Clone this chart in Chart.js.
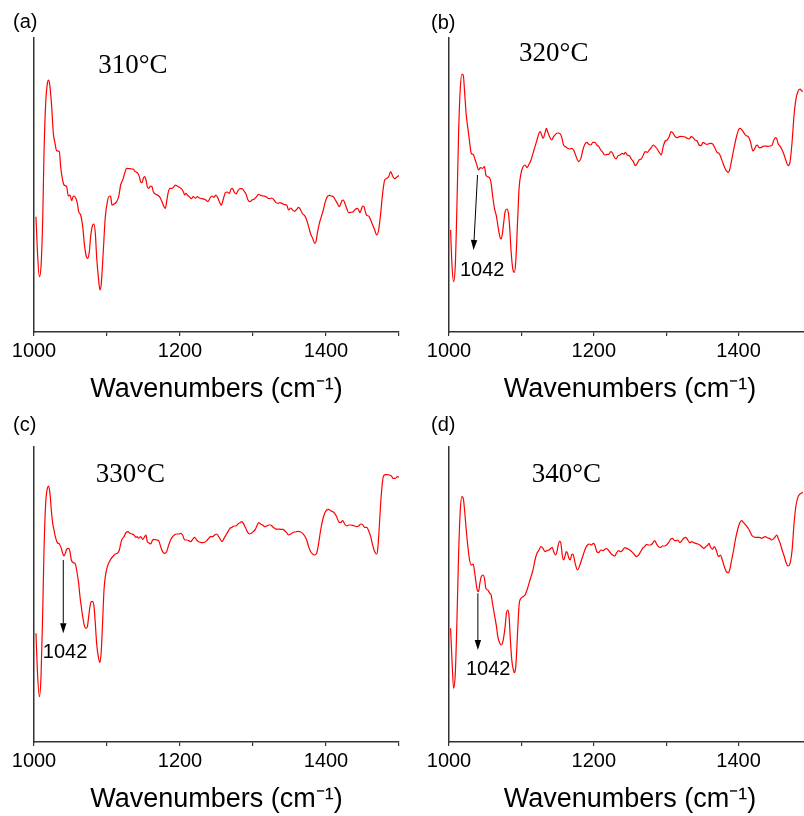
<!DOCTYPE html>
<html>
<head>
<meta charset="utf-8">
<script src="https://cdn.jsdelivr.net/npm/chart.js@4.4.0/dist/chart.umd.min.js"></script>
<style>
  html, body { margin: 0; padding: 0; background: #fff; overflow: hidden; width: 804px; height: 816px; }
  canvas { position: absolute; }
</style>
</head>
<body>
<canvas id="p310" width="402" height="408" style="left:0;top:0"></canvas>
<canvas id="p320" width="412" height="408" style="left:402px;top:0"></canvas>
<canvas id="p330" width="402" height="408" style="left:0;top:410px"></canvas>
<canvas id="p340" width="412" height="408" style="left:402px;top:410px"></canvas>
<script>
// FTIR spectra, 1000-1500 cm-1, arbitrary intensity units
const wave310 = [1002.7,1004.6,1007.3,1009.6,1011.9,1013.7,1016.0,1018.3,1020.1,1021.9,1024.2,1026.5,1028.8,1031.0,1034.7,1036.5,1038.4,1041.1,1044.7,1047.0,1049.3,1051.6,1053.9,1056.6,1059.4,1061.2,1063.9,1066.7,1068.9,1071.2,1073.5,1075.8,1077.6,1080.4,1082.2,1084.0,1085.8,1088.1,1090.4,1092.2,1095.0,1097.7,1100.5,1103.2,1105.0,1106.8,1109.6,1113.2,1116.0,1118.7,1121.5,1124.2,1126.9,1131.5,1136.1,1138.8,1141.5,1144.3,1146.1,1147.9,1149.8,1151.6,1153.4,1155.2,1157.1,1159.8,1161.6,1163.5,1166.2,1168.9,1172.6,1175.3,1178.1,1179.9,1181.7,1183.6,1186.3,1189.0,1191.8,1193.6,1196.3,1199.1,1201.8,1204.6,1206.4,1208.2,1210.0,1212.8,1215.5,1218.3,1221.0,1223.7,1226.5,1230.1,1233.8,1236.5,1238.3,1241.1,1243.8,1246.6,1249.3,1252.0,1254.8,1256.6,1258.4,1260.3,1262.1,1264.8,1267.6,1270.3,1272.1,1274.0,1276.7,1279.4,1282.2,1284.9,1287.7,1290.4,1293.1,1295.9,1298.6,1301.4,1304.1,1307.8,1310.5,1314.1,1317.8,1320.5,1323.3,1326.0,1328.8,1331.5,1334.2,1337.0,1339.7,1343.4,1346.1,1348.8,1351.6,1354.3,1357.1,1359.8,1362.5,1365.3,1368.0,1370.8,1373.5,1376.2,1379.0,1381.7,1384.5,1386.3,1388.1,1390.9,1393.6,1396.3,1399.1,1401.8,1404.6,1407.3,1410.0,1412.8,1415.5,1418.3,1420.1,1421.9,1423.7,1425.6,1428.3,1431.0,1433.8,1437.4,1440.2,1442.9,1444.7,1446.6,1448.4,1450.2,1452.0,1453.9,1455.7,1458.4,1461.2,1463.9,1466.7,1469.4,1472.1,1474.9,1477.6,1480.4,1483.1,1485.8,1488.6,1491.3,1494.0,1496.8,1500.0];
const int310 = [34.6,24.6,16.6,19.6,33.6,53.6,68.6,74.6,75.6,73.6,67.6,59.6,56.6,54.4,54.1,49.6,46.6,44.1,43.6,40.8,41.1,39.4,40.8,40.4,38.6,36.1,35.1,31.6,26.6,23.1,22.1,24.1,28.6,32.1,32.4,29.6,22.6,16.6,12.6,14.6,24.6,34.6,39.1,40.8,40.6,38.1,38.4,39.1,40.6,44.1,45.6,47.6,49.1,49.0,48.8,48.1,47.8,46.6,45.1,44.8,46.1,46.6,45.6,43.6,43.1,43.8,43.6,42.1,41.4,41.1,40.4,39.1,37.6,37.1,39.1,41.6,43.1,43.1,43.6,44.1,43.8,43.4,43.0,42.1,41.1,41.6,41.1,40.6,40.0,40.6,40.1,40.6,40.2,40.0,39.8,39.4,39.1,40.2,40.8,40.4,41.1,40.1,38.6,38.0,39.1,40.6,41.8,42.0,41.6,43.0,43.0,42.1,41.4,42.4,43.0,43.0,42.3,41.4,39.6,39.1,39.6,39.8,40.4,41.3,41.0,40.8,40.6,40.1,40.0,40.2,39.6,38.8,38.6,38.8,38.6,38.2,38.1,36.6,37.2,36.6,36.2,36.8,37.4,36.6,35.4,34.9,33.6,31.6,29.4,28.1,26.6,27.1,29.6,32.6,34.6,36.6,39.1,40.6,41.0,40.8,40.6,39.6,38.6,37.6,38.4,39.4,39.6,38.8,37.1,35.8,35.9,36.1,36.8,37.1,36.6,35.8,36.8,37.8,37.6,36.1,35.0,34.8,33.6,32.1,30.6,29.1,30.6,35.6,41.6,45.6,46.1,46.6,48.1,46.8,46.0,46.4,47.0];

const wave320 = [1002.2,1004.1,1006.4,1008.7,1011.0,1013.3,1015.6,1017.8,1019.7,1021.5,1023.8,1026.1,1028.4,1030.7,1033.4,1036.2,1038.5,1040.8,1043.5,1046.3,1049.0,1050.9,1053.6,1056.4,1058.2,1060.1,1062.8,1065.6,1067.4,1070.2,1072.0,1073.8,1075.7,1077.5,1080.2,1082.1,1083.9,1085.8,1088.0,1090.3,1092.2,1094.9,1096.8,1099.5,1102.3,1105.0,1107.8,1110.5,1113.3,1116.0,1118.8,1121.5,1124.3,1126.1,1128.0,1129.8,1132.5,1134.4,1136.2,1139.0,1141.7,1144.5,1147.2,1150.0,1152.7,1155.5,1158.2,1161.0,1163.7,1166.5,1169.3,1172.0,1174.8,1177.5,1179.3,1182.1,1184.9,1187.6,1190.4,1193.1,1195.9,1198.6,1201.4,1204.1,1206.9,1209.6,1212.4,1215.1,1217.9,1220.6,1223.4,1226.1,1228.0,1230.7,1233.5,1236.2,1239.0,1241.7,1243.6,1246.3,1249.1,1251.8,1254.6,1257.3,1260.1,1262.8,1265.6,1268.4,1271.1,1273.9,1276.6,1279.4,1282.1,1284.9,1287.6,1290.4,1293.1,1295.9,1298.6,1301.4,1304.1,1306.9,1309.6,1312.4,1315.1,1317.9,1320.7,1323.4,1326.2,1328.9,1331.7,1334.4,1337.2,1339.9,1342.7,1345.4,1348.2,1350.9,1353.7,1356.4,1359.2,1361.9,1364.7,1367.5,1370.2,1373.0,1375.7,1378.5,1381.2,1384.0,1385.8,1387.6,1389.5,1392.2,1395.0,1397.7,1400.5,1402.3,1405.1,1407.8,1410.6,1413.3,1416.1,1417.9,1419.8,1422.5,1424.3,1426.2,1428.0,1430.8,1433.5,1436.3,1439.9,1443.6,1446.4,1448.2,1451.0,1452.8,1454.6,1457.4,1460.1,1462.9,1465.6,1468.4,1471.1,1473.9,1476.6,1479.4,1482.2,1484.9,1486.7,1488.6];
const int320 = [30.6,20.1,15.1,20.1,38.1,60.1,73.1,77.3,77.1,72.1,65.1,61.1,57.1,53.6,53.3,51.6,50.1,48.6,49.3,49.1,49.6,47.1,46.6,46.1,44.6,41.1,37.1,34.6,32.1,28.6,27.9,29.6,33.1,36.1,36.9,35.6,31.1,24.1,19.1,17.9,21.1,34.1,43.1,47.6,49.6,50.1,49.3,50.3,51.6,53.6,55.6,57.6,59.6,60.1,59.1,58.1,59.6,61.1,60.1,58.6,57.6,58.6,59.3,59.7,59.6,58.6,56.1,55.6,55.1,54.9,55.1,54.6,53.1,51.6,51.1,52.1,54.6,56.3,56.9,56.3,56.1,56.9,56.9,56.1,55.6,54.6,53.9,53.1,53.3,53.3,54.1,53.6,52.6,51.9,52.9,53.1,53.6,53.3,53.9,53.1,52.9,51.9,51.1,49.9,50.6,51.7,51.9,53.1,54.1,53.9,54.6,55.3,56.1,55.6,54.9,53.9,53.1,55.6,57.3,57.6,58.6,60.1,59.6,58.6,58.3,58.6,58.7,58.6,58.5,58.1,57.9,58.6,58.3,57.6,57.3,56.1,55.9,56.9,56.5,56.3,56.5,56.6,56.3,55.1,53.9,53.6,52.3,50.6,49.1,48.1,47.9,48.6,50.6,53.6,56.6,59.1,60.9,61.1,60.5,59.6,58.9,58.6,57.3,55.6,54.3,55.1,55.9,56.1,55.3,55.3,55.7,55.8,55.7,55.8,56.1,57.3,58.3,57.9,56.5,55.7,54.6,53.1,51.3,49.9,51.1,57.1,65.1,70.1,72.3,72.9,72.5,72.1];

const wave330 = [1002.7,1004.6,1007.3,1009.6,1011.9,1013.7,1016.0,1018.3,1020.1,1021.9,1023.7,1025.6,1027.4,1029.2,1032.0,1034.7,1037.4,1039.3,1041.1,1042.9,1044.7,1047.5,1049.3,1051.1,1053.9,1056.6,1058.4,1061.2,1063.0,1064.8,1066.7,1069.4,1071.2,1073.1,1074.9,1076.7,1078.5,1080.4,1082.2,1084.0,1085.8,1088.1,1090.4,1092.2,1094.1,1095.9,1097.7,1100.5,1103.2,1105.9,1108.7,1111.4,1114.2,1116.9,1118.7,1120.5,1123.3,1126.0,1128.8,1131.5,1134.2,1137.0,1139.7,1141.5,1143.4,1146.1,1148.9,1151.6,1153.4,1155.2,1157.1,1159.8,1162.5,1165.3,1168.0,1170.8,1173.5,1176.2,1179.0,1181.7,1184.5,1187.2,1189.9,1192.7,1195.4,1198.2,1200.9,1203.6,1206.4,1209.1,1211.9,1214.6,1217.3,1220.1,1222.8,1225.6,1228.3,1231.0,1233.8,1236.5,1239.3,1242.0,1244.7,1247.5,1250.2,1253.0,1255.7,1257.5,1260.3,1263.0,1265.7,1268.5,1271.2,1274.0,1276.7,1279.4,1282.2,1284.9,1286.7,1289.5,1292.2,1295.0,1297.7,1300.4,1303.2,1305.9,1307.8,1310.5,1313.2,1316.0,1318.7,1321.4,1324.2,1326.9,1329.7,1332.4,1335.1,1337.9,1340.6,1343.4,1346.1,1348.8,1351.6,1354.3,1357.1,1359.8,1362.5,1365.3,1368.0,1370.8,1373.5,1376.2,1379.0,1381.7,1384.5,1387.2,1389.9,1392.7,1395.4,1398.2,1400.9,1403.6,1406.4,1409.1,1411.9,1414.6,1417.3,1420.1,1422.8,1425.6,1428.3,1431.0,1433.8,1436.5,1439.3,1442.0,1444.7,1447.5,1450.2,1452.9,1455.7,1458.4,1461.2,1463.9,1466.7,1469.4,1471.2,1473.0,1474.9,1476.7,1478.5,1481.3,1484.0,1486.7,1489.5,1492.2,1495.0,1497.7,1500.0];
const int330 = [32.6,21.6,13.6,19.6,38.6,57.6,71.6,76.1,76.8,74.6,69.6,65.6,63.6,61.6,59.8,59.4,58.1,56.6,55.8,56.6,57.8,58.1,57.1,54.6,53.8,53.4,51.6,47.6,43.6,40.6,37.6,34.6,34.1,34.6,37.6,40.6,42.1,42.1,40.6,35.6,29.6,25.6,23.8,27.6,36.6,45.6,49.6,52.6,54.1,55.1,55.8,56.4,56.6,57.6,59.4,60.8,61.6,62.8,63.1,62.6,62.4,62.1,61.4,61.6,61.1,61.6,60.8,61.6,62.1,60.1,59.8,59.4,60.6,60.8,60.6,60.4,58.6,57.1,56.6,57.1,59.1,60.6,61.6,62.2,62.4,62.4,62.6,62.1,60.6,60.6,60.4,60.1,60.8,61.4,60.6,60.1,59.9,59.8,59.9,60.4,61.1,61.6,61.6,62.1,62.4,61.6,60.6,60.1,61.1,62.1,63.1,64.1,64.4,64.8,64.8,65.4,65.8,66.1,65.6,64.4,63.1,62.4,62.6,63.1,63.8,65.1,65.8,65.4,65.1,64.6,64.8,65.1,65.1,64.6,64.1,63.8,63.9,63.8,63.8,63.4,62.8,62.1,62.4,62.8,63.0,63.1,63.2,63.0,62.6,61.8,60.6,58.6,57.1,56.4,56.1,56.6,59.6,63.6,66.6,68.6,69.6,69.8,69.4,69.1,68.6,67.6,66.1,65.8,66.4,65.4,64.8,65.1,65.1,65.0,64.8,64.6,64.8,65.4,65.2,64.4,64.4,63.4,61.6,59.1,57.1,56.4,58.6,64.6,71.6,76.6,79.6,80.2,80.2,80.1,79.8,79.1,79.1,79.6,79.4];

const wave340 = [1002.2,1004.1,1006.4,1008.7,1011.0,1013.3,1015.6,1017.8,1019.7,1021.5,1023.8,1026.1,1028.4,1030.7,1033.4,1035.3,1037.1,1039.0,1040.8,1042.6,1044.5,1047.2,1049.0,1050.9,1053.6,1056.4,1058.2,1060.1,1062.8,1065.6,1067.4,1070.2,1072.0,1073.8,1075.7,1077.5,1079.3,1081.2,1083.0,1084.8,1086.7,1089.0,1090.3,1092.2,1094.9,1096.8,1099.5,1102.3,1105.0,1107.8,1110.5,1113.3,1116.0,1118.8,1121.5,1124.3,1127.0,1129.8,1132.5,1135.3,1138.1,1140.8,1142.6,1144.5,1147.2,1149.1,1150.9,1152.7,1154.6,1156.4,1158.2,1160.1,1161.9,1163.7,1165.6,1167.4,1169.3,1171.1,1172.9,1174.8,1177.5,1180.3,1183.0,1185.8,1188.5,1191.3,1194.0,1196.8,1199.5,1201.4,1204.1,1206.9,1209.6,1212.4,1215.1,1217.9,1220.6,1223.4,1226.1,1228.9,1231.6,1234.4,1237.2,1239.9,1242.7,1245.4,1248.2,1250.9,1253.7,1256.4,1259.2,1261.9,1264.7,1267.4,1270.2,1272.9,1275.7,1278.4,1281.2,1284.0,1286.7,1289.5,1292.2,1295.0,1297.7,1300.5,1303.2,1306.0,1308.7,1311.5,1314.2,1316.1,1318.8,1321.6,1324.3,1327.1,1329.8,1332.6,1335.3,1338.1,1340.8,1343.6,1346.4,1349.1,1351.9,1354.6,1357.4,1359.2,1361.0,1363.8,1366.5,1369.3,1371.1,1373.0,1374.8,1377.5,1380.3,1383.1,1385.8,1387.6,1390.4,1393.1,1395.9,1398.6,1401.4,1404.2,1406.9,1409.7,1412.4,1415.2,1417.9,1420.7,1423.4,1426.2,1428.9,1431.7,1434.4,1437.2,1439.9,1442.7,1445.4,1447.3,1450.0,1452.8,1454.6,1457.4,1460.1,1462.9,1465.6,1468.4,1471.1,1473.9,1476.6,1479.4,1482.2,1484.9,1487.7,1488.6];
const int340 = [34.1,24.6,16.1,20.6,36.6,56.6,69.6,73.6,73.1,69.6,63.6,58.6,54.6,53.1,53.4,51.1,48.1,45.6,45.1,47.6,49.6,50.1,49.1,46.1,45.6,44.6,44.1,41.6,38.1,34.6,31.6,29.6,29.1,29.6,31.6,34.6,38.6,39.6,37.6,30.6,24.6,21.6,20.8,22.6,33.6,41.1,43.1,43.6,44.1,45.6,47.6,49.6,51.6,54.6,56.6,57.6,58.6,58.1,57.1,57.4,57.6,58.1,58.4,57.1,56.1,57.1,59.1,60.3,59.6,56.1,54.6,55.6,57.1,56.6,55.1,54.6,56.1,56.4,55.1,53.1,51.6,52.8,54.6,56.4,58.1,59.1,59.4,59.1,59.6,59.1,57.1,56.8,57.6,57.4,57.8,58.0,57.4,56.6,56.1,55.8,56.8,57.4,57.1,57.6,58.3,58.1,57.8,57.4,56.8,56.1,55.6,56.1,57.1,58.1,58.6,59.3,59.1,59.1,59.6,60.4,59.4,58.6,58.4,58.8,58.8,59.1,59.8,60.8,61.1,60.4,60.4,60.6,59.8,60.4,61.1,61.4,60.6,59.8,60.1,59.8,59.6,59.4,59.1,58.6,58.1,58.6,59.1,59.6,58.6,57.8,58.6,57.4,56.1,55.6,56.1,54.6,52.6,51.1,50.8,51.6,54.6,57.6,61.1,63.6,65.6,66.4,65.8,65.1,64.4,63.4,62.1,61.6,61.4,61.4,61.4,61.1,61.4,61.6,61.2,61.1,60.6,60.8,61.4,62.1,61.1,59.6,57.6,55.8,53.8,52.8,53.6,57.6,65.6,71.1,73.6,74.4,74.8,75.0];

// x ticks every 100, labels only on 1000/1200/1400
const tickStep = 100;
const labelStep = 200;

// 1042 band marker: arrow start, arrow tip, label centre (wavenumber, intensity)
const arrow320 = [1039.4, 47.1, 1033.9, 24.6, 1045.8, 18.6];
const arrow330 = [1040.1, 54.6, 1040.1, 32.6, 1042.5, 26.9];
const arrow340 = [1039.9, 44.6, 1039.9, 27.6, 1054.1, 21.9];

const SANS = '"Liberation Sans", Arial, Helvetica, sans-serif';
const SERIF = '"Liberation Serif", "Times New Roman", serif';

// panel letter, temperature tag and the 1042 arrow
const panelText = {
  id: 'panelText',
  afterDraw(chart, args, o) {
    const { ctx } = chart;
    const x = chart.scales.x, y = chart.scales.y;
    ctx.save();
    ctx.fillStyle = '#000';
    ctx.textAlign = 'left';
    ctx.textBaseline = 'middle';
    ctx.font = '20px ' + SANS;
    ctx.fillText(o.letter, o.letterPos[0], o.letterPos[1]);

    ctx.font = '27px ' + SERIF;
    ctx.textBaseline = 'alphabetic';
    ctx.fillText(o.temp, x.getPixelForValue(o.tempAt[0]), y.getPixelForValue(o.tempAt[1]));

    if (o.arrow) {
      const a = o.arrow;
      const x1 = x.getPixelForValue(a[0]), y1 = y.getPixelForValue(a[1]);
      const x2 = x.getPixelForValue(a[2]), y2 = y.getPixelForValue(a[3]);
      const ang = Math.atan2(y2 - y1, x2 - x1);
      const len = 10, half = 3.2;
      const bx = x2 - len * Math.cos(ang), by = y2 - len * Math.sin(ang);
      ctx.strokeStyle = '#000';
      ctx.lineWidth = 1;
      ctx.beginPath();
      ctx.moveTo(x1, y1);
      ctx.lineTo(bx, by);
      ctx.stroke();
      ctx.beginPath();
      ctx.moveTo(x2, y2);
      ctx.lineTo(bx + half * Math.sin(ang), by - half * Math.cos(ang));
      ctx.lineTo(bx - half * Math.sin(ang), by + half * Math.cos(ang));
      ctx.closePath();
      ctx.fill();

      ctx.font = '20px ' + SANS;
      ctx.textAlign = 'center';
      ctx.textBaseline = 'middle';
      ctx.fillText('1042', x.getPixelForValue(a[4]), y.getPixelForValue(a[5]));
    }
    ctx.restore();
  }
};

function spectrum(id, waves, values, cfg) {
  const pts = waves.map((w, i) => ({ x: w, y: values[i] }));
  return new Chart(document.getElementById(id), {
    type: 'line',
    data: {
      datasets: [{
        data: pts,
        borderColor: '#ff0000',
        borderWidth: 1.2,
        pointRadius: 0,
        cubicInterpolationMode: 'monotone',
        fill: false
      }]
    },
    options: {
      responsive: false,
      animation: false,
      devicePixelRatio: 1,
      layout: { padding: cfg.padding },
      plugins: {
        legend: { display: false },
        tooltip: { enabled: false },
        panelText: cfg
      },
      scales: {
        x: {
          type: 'linear',
          min: 1000,
          max: 1500,
          afterFit: s => { s.height = 76; },
          border: { display: true, color: '#333', width: 1.5 },
          grid: { drawOnChartArea: false, drawTicks: true, tickLength: 4, color: '#333', lineWidth: 1.2 },
          ticks: {
            stepSize: tickStep,
            autoSkip: false,
            maxRotation: 0,
            padding: 3,
            color: '#000',
            font: { family: SANS, size: 20 },
            callback: v => (v % labelStep === 0 ? String(v) : '')
          },
          title: {
            display: true,
            text: 'Wavenumbers (cm\u207B\u00B9)',
            color: '#000',
            font: { family: SANS, size: 27 },
            padding: { top: 0, bottom: 2 }
          }
        },
        y: {
          min: 0,
          max: cfg.yMax,
          afterFit: s => { s.width = 0; },
          ticks: { display: false },
          grid: { display: false },
          border: { display: true, color: '#333', width: 1.5 }
        }
      }
    },
    plugins: [panelText]
  });
}

spectrum('p310', wave310, int310, {
  padding: { left: 34, top: 38, right: 3, bottom: 0 }, yMax: 88.2,
  letter: '(a)', letterPos: [13, 22.5], temp: '310°C', tempAt: [1088, 77.7]
});
spectrum('p320', wave320, int320, {
  padding: { left: 47, top: 38, right: 2, bottom: 0 }, yMax: 88.2,
  letter: '(b)', letterPos: [29, 23], temp: '320°C', tempAt: [1096.8, 81.3], arrow: arrow320
});
spectrum('p330', wave330, int330, {
  padding: { left: 34, top: 37, right: 3, bottom: 0 }, yMax: 88.5,
  letter: '(c)', letterPos: [13, 15.5], temp: '330°C', tempAt: [1084.5, 78.1], arrow: arrow330
});
spectrum('p340', wave340, int340, {
  padding: { left: 47, top: 37, right: 2, bottom: 0 }, yMax: 88.5,
  letter: '(d)', letterPos: [29, 15.5], temp: '340°C', tempAt: [1114.2, 78.1], arrow: arrow340
});
</script>
</body>
</html>
